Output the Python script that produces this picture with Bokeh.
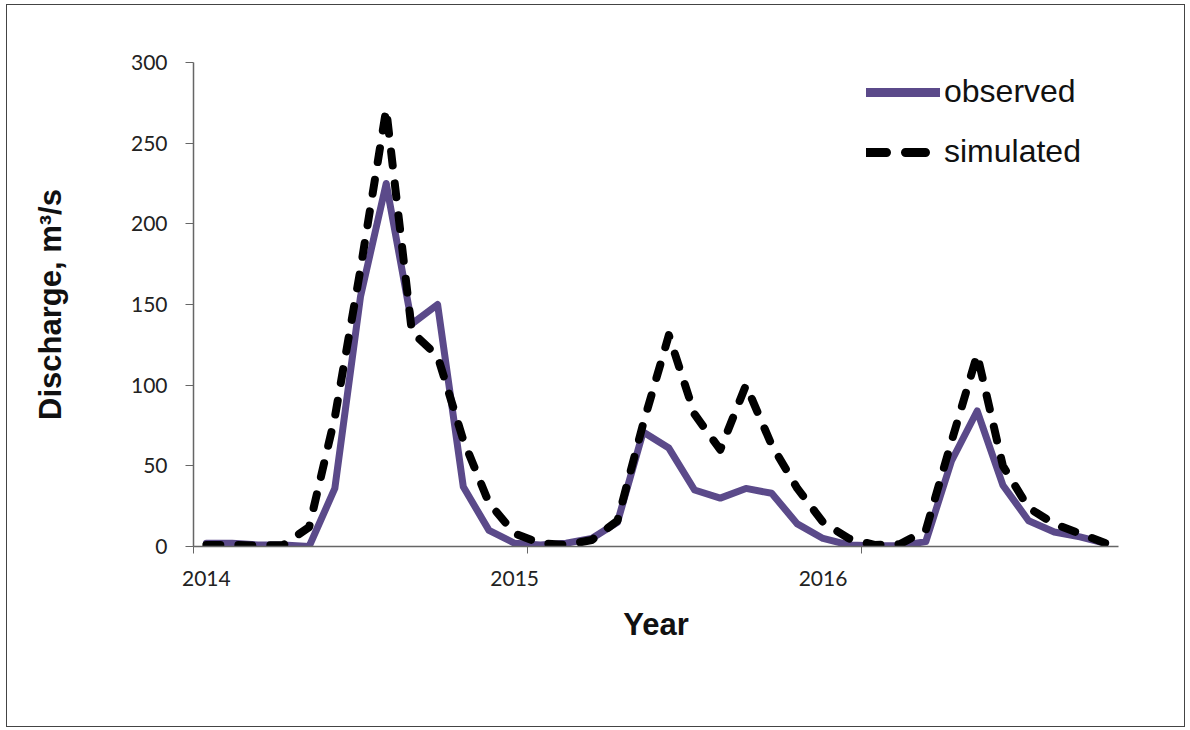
from bokeh.plotting import figure
from bokeh.models import FixedTicker, Legend, LegendItem, ColumnDataSource
from bokeh.embed import file_html
from bokeh.resources import INLINE

# monthly values Jan 2014 .. Dec 2016
months = list(range(36))
observed = [2, 2, 1, 1, 0, 36, 155, 225, 138, 150, 37, 10,
            2, 1, 2, 5, 15, 71, 61, 35, 30, 36, 33, 14,
            5, 1, 0.5, 0.5, 3, 53, 84, 38, 16, 9, 6, 2]
simulated = [1, 1, 0.5, 1, 12, 80, 172, 271, 133, 118, 66, 27,
             8, 2, 1, 4, 16, 76, 131, 82, 60, 100, 63, 36,
             15, 5, 1, 1.5, 10, 65, 119, 50, 24, 14, 8, 2]
year_ticks = [0, 12, 24]
year_labels = ["2014", "2015", "2016"]
minor_x_ticks = [-0.5, 12.5, 25.5]
y_ticks = [0, 50, 100, 150, 200, 250, 300]

src = ColumnDataSource(dict(x=months, obs=observed, sim=simulated))

p = figure(width=1179, height=723, output_backend="svg", toolbar_location=None,
           x_range=(-0.5, 35.5), y_range=(0, 300),
           min_border_left=186, min_border_right=68, min_border_top=57, min_border_bottom=182)
p.styles = {"border": "1.5px solid #444444", "margin-left": "6px", "margin-top": "4px"}
p.outline_line_color = None
p.xgrid.visible = False
p.ygrid.visible = False

obs_color = "#5B4A8A"
r_obs = p.line("x", "obs", source=src, line_color=obs_color, line_width=7,
               line_join="round", line_cap="round")
r_sim = p.line("x", "sim", source=src, line_color="black", line_width=8,
               line_dash="14 18", line_join="round", line_cap="round")

# legend-only renderers (placed outside the visible range)
leg_obs = p.line(x=[-10, -9], y=[-10, -10], line_color=obs_color, line_width=9, line_cap="round")
leg_sim = p.line(x=[-10, -9], y=[-10, -10], line_color="black", line_width=9, line_cap="round",
                 line_dash="20 19")

legend = Legend(items=[LegendItem(label="observed", renderers=[leg_obs]),
                       LegendItem(label="simulated", renderers=[leg_sim])],
                location=(673, 376), orientation="vertical")
legend.glyph_width = 74
legend.glyph_height = 30
legend.label_height = 30
legend.spacing = 23
legend.padding = 0
legend.margin = 0
legend.label_standoff = 4
legend.border_line_color = None
legend.background_fill_alpha = 0
legend.label_text_font = "Liberation Sans"
legend.label_text_font_size = "32px"
legend.label_text_color = "#111111"
p.add_layout(legend)

axis_color = "#666666"
xa = p.xaxis[0]
xa.ticker = FixedTicker(ticks=year_ticks, minor_ticks=minor_x_ticks)
xa.major_label_overrides = {t: l for t, l in zip(year_ticks, year_labels)}
xa.major_tick_out = 0
xa.major_tick_in = 0
xa.minor_tick_out = 7
xa.minor_tick_in = 0
xa.minor_tick_line_color = axis_color
xa.axis_line_color = axis_color
xa.axis_line_width = 1.5
xa.major_label_text_font = "Lato"
xa.major_label_text_font_size = "21px"
xa.major_label_text_color = "#222222"
xa.major_label_standoff = 17
xa.axis_label = "Year"
xa.axis_label_text_font = "Liberation Sans"
xa.axis_label_text_font_style = "bold"
xa.axis_label_text_font_size = "31px"
xa.axis_label_text_color = "#111111"
xa.axis_label_standoff = 18

ya = p.yaxis[0]
ya.ticker = FixedTicker(ticks=y_ticks, minor_ticks=[])
ya.major_tick_out = 8
ya.major_tick_in = 0
ya.major_tick_line_color = axis_color
ya.axis_line_color = axis_color
ya.axis_line_width = 1.5
ya.major_label_text_font = "Lato"
ya.major_label_text_font_size = "21px"
ya.major_label_text_color = "#222222"
ya.major_label_standoff = 18
ya.axis_label = "Discharge, m³/s"
ya.axis_label_text_font = "Liberation Sans"
ya.axis_label_text_font_style = "bold"
ya.axis_label_text_font_size = "31px"
ya.axis_label_text_color = "#111111"
ya.axis_label_standoff = 60

open("out.html", "w").write(file_html(p, INLINE))
